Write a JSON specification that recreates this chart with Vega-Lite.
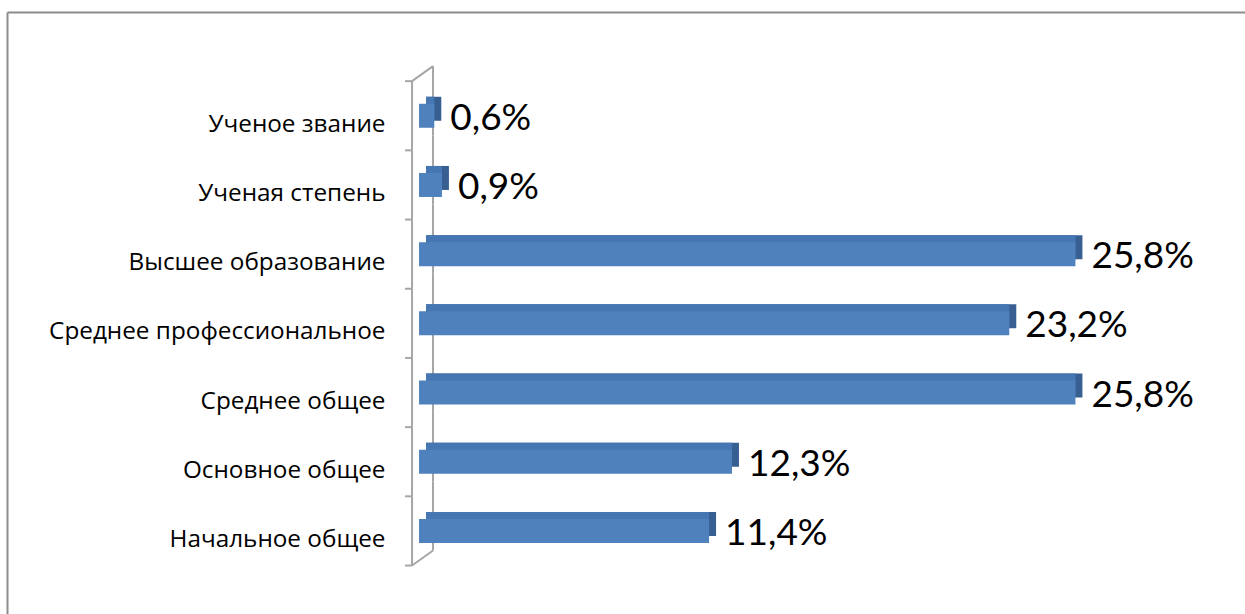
{
  "$schema": "https://vega.github.io/schema/vega-lite/v6.json",
  "width": 1238,
  "height": 602,
  "autosize": {"type": "none"},
  "padding": {"left": 7, "top": 12, "right": 0, "bottom": 0},
  "background": "white",
  "config": {"view": {"stroke": null}},
  "data": {"values": [
    {"cat": "Ученое звание", "value": 0.6, "label": "0,6%"},
    {"cat": "Ученая степень", "value": 0.9, "label": "0,9%"},
    {"cat": "Высшее образование", "value": 25.8, "label": "25,8%"},
    {"cat": "Среднее профессиональное", "value": 23.2, "label": "23,2%"},
    {"cat": "Среднее общее", "value": 25.8, "label": "25,8%"},
    {"cat": "Основное общее", "value": 12.3, "label": "12,3%"},
    {"cat": "Начальное общее", "value": 11.4, "label": "11,4%"}
  ]},
  "encoding": {
    "y": {
      "field": "cat", "type": "nominal", "sort": null, "title": null,
      "scale": {"type": "band", "paddingInner": 0, "paddingOuter": 0.85, "align": 0.588},
      "axis": {
        "orient": "left", "domain": true, "domainColor": "#8C8C8C", "domainWidth": 2,
        "ticks": false, "grid": false, "labelPadding": -378, "labelAlign": "right",
        "labelBaseline": "alphabetic", "labelOffset": 16, "labelFont": "Open Sans",
        "labelFontSize": 24.3, "labelColor": "#000000", "labelLimit": 0
      }
    }
  },
  "layer": [
    {
      "mark": {"type": "rule", "color": "#A6A6A6", "strokeWidth": 2},
      "encoding": {
        "x": {"datum": -0.275, "type": "quantitative", "scale": {"domain": [-16.195, 32.465], "nice": false, "zero": false},
              "axis": {"orient": "top", "domain": true, "domainColor": "#8C8C8C", "domainWidth": 2, "ticks": false, "labels": false, "grid": false, "title": null}},
        "y": {"field": "cat", "type": "nominal", "sort": null, "bandPosition": 0},
        "y2": {"field": "cat", "bandPosition": 1}
      }
    },
    {
      "mark": {"type": "rule", "color": "#A6A6A6", "strokeWidth": 2, "yOffset": -15, "y2Offset": -15},
      "encoding": {
        "x": {"datum": 0.55, "type": "quantitative"},
        "y": {"field": "cat", "type": "nominal", "sort": null, "bandPosition": 0},
        "y2": {"field": "cat", "bandPosition": 1}
      }
    },
    {
      "mark": {"type": "rule", "color": "#A6A6A6", "strokeWidth": 2},
      "encoding": {
        "x": {"datum": -0.55, "type": "quantitative"},
        "x2": {"datum": -0.275},
        "y": {"field": "cat", "type": "nominal", "sort": null, "bandPosition": 0}
      }
    },
    {
      "data": {"values": [{"cat": "Начальное общее"}]},
      "mark": {"type": "rule", "color": "#A6A6A6", "strokeWidth": 2},
      "encoding": {
        "x": {"datum": -0.55, "type": "quantitative"},
        "x2": {"datum": -0.275},
        "y": {"field": "cat", "type": "nominal", "sort": null, "bandPosition": 1}
      }
    },
    {
      "data": {"values": [{"cat": "Ученое звание"}]},
      "mark": {"type": "rule", "color": "#A6A6A6", "strokeWidth": 2, "y2Offset": -15},
      "encoding": {
        "x": {"datum": -0.275, "type": "quantitative"},
        "x2": {"datum": 0.55},
        "y": {"field": "cat", "type": "nominal", "sort": null, "bandPosition": 0},
        "y2": {"field": "cat", "bandPosition": 0}
      }
    },
    {
      "data": {"values": [{"cat": "Начальное общее"}]},
      "mark": {"type": "rule", "color": "#A6A6A6", "strokeWidth": 2, "y2Offset": -15},
      "encoding": {
        "x": {"datum": -0.275, "type": "quantitative"},
        "x2": {"datum": 0.55},
        "y": {"field": "cat", "type": "nominal", "sort": null, "bandPosition": 1},
        "y2": {"field": "cat", "bandPosition": 1}
      }
    },
    {
      "mark": {"type": "bar", "color": "#385F92", "size": 24, "xOffset": 7, "x2Offset": 7, "yOffset": -7},
      "encoding": {
        "x": {"field": "value", "type": "quantitative"},
        "x2": {"datum": 0}
      }
    },
    {
      "mark": {"type": "bar", "color": "#4677B3", "size": 24, "xOffset": 0, "x2Offset": 7, "yOffset": -7},
      "encoding": {
        "x": {"field": "value", "type": "quantitative"},
        "x2": {"datum": 0}
      }
    },
    {
      "mark": {"type": "bar", "color": "#4F81BD", "size": 24},
      "encoding": {
        "x": {"field": "value", "type": "quantitative"},
        "x2": {"datum": 0}
      }
    },
    {
      "mark": {"type": "text", "align": "left", "baseline": "alphabetic", "dx": 16, "dy": 14, "font": "Lato", "fontSize": 37, "color": "#000000"},
      "encoding": {
        "x": {"field": "value", "type": "quantitative"},
        "text": {"field": "label"}
      }
    }
  ]
}
